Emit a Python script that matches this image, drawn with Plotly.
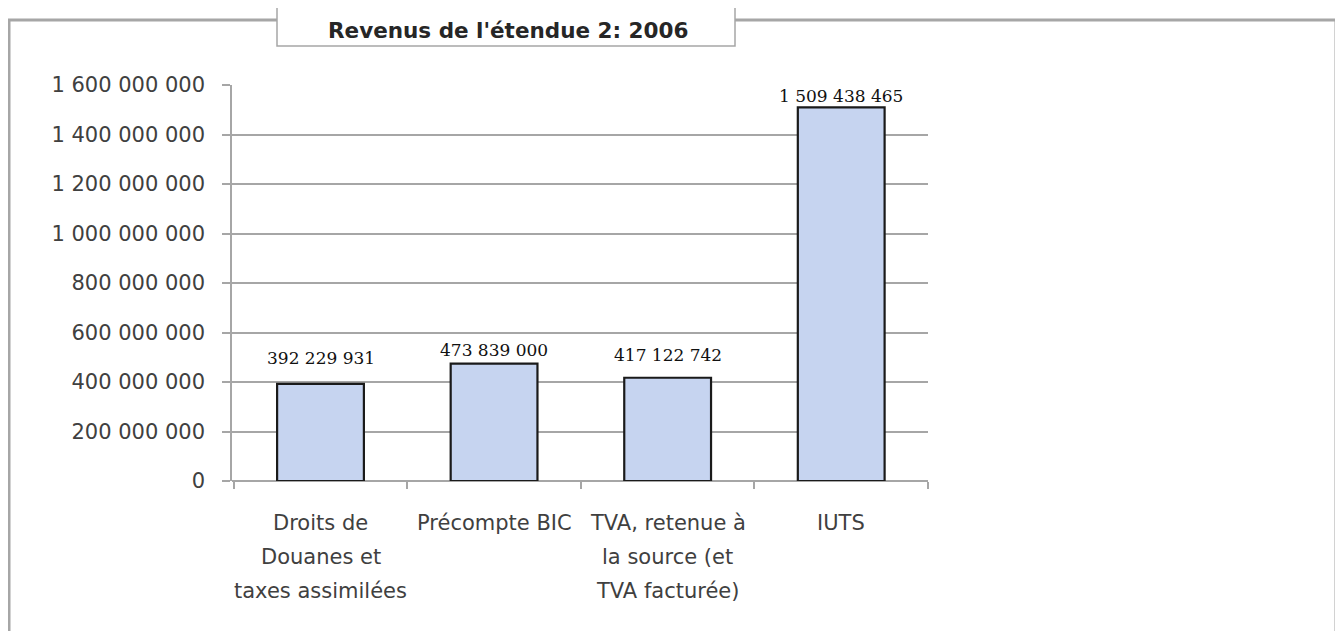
import plotly.graph_objects as go

# ---- data ----
categories = ["Droits de Douanes", "Précompte BIC", "TVA retenue", "IUTS"]
category_lines = [
    ["Droits de", "Douanes et", "taxes assimilées"],
    ["Précompte BIC"],
    ["TVA, retenue à", "la source (et", "TVA facturée)"],
    ["IUTS"],
]
values = [392229931, 473839000, 417122742, 1509438465]
y_ticks = [0, 200000000, 400000000, 600000000, 800000000,
           1000000000, 1200000000, 1400000000, 1600000000]
title_text = "Revenus de l'étendue 2: 2006"

# ---- style: vertical offset (px) of each data label above its bar ----
label_shift = [26, 14, 23, 11]

W, H = 1335, 623
OFF = 8  # page body margin
L, R, T, B = 232 - OFF, 928 - OFF, 85 - OFF, 481 - OFF  # plot area in figure pixels
pw, ph = R - L, B - T

def px(x):
    return (x - OFF - L) / pw

def py(y):
    return (B - (y - OFF)) / ph

labels = [f"{v:,}".replace(",", " ") for v in values]

fig = go.Figure()
fig.add_trace(go.Bar(
    x=categories, y=values, width=0.5,
    marker=dict(color="#c6d4f0", line=dict(color="#1a1a1a", width=2.2)),
    hoverinfo="skip",
))

annotations = []
for cat, v, lab, sh in zip(categories, values, labels, label_shift):
    annotations.append(dict(
        x=cat, y=v, xref="x", yref="y", text=lab, showarrow=False,
        yanchor="middle", xanchor="center", yshift=sh,
        font=dict(family="DejaVu Serif", size=17, color="#111111"),
    ))
for cat, lines in zip(categories, category_lines):
    for i, line in enumerate(lines):
        annotations.append(dict(
            x=cat, y=0, xref="x", yref="y", text=line, showarrow=False,
            yanchor="middle", xanchor="center", yshift=-(42 + 34 * i),
            font=dict(family="DejaVu Sans", size=21, color="#404040"),
        ))
annotations.append(dict(
    x=px(508), y=py(30), xref="paper", yref="paper", text="<b>" + title_text + "</b>",
    showarrow=False, xanchor="center", yanchor="middle",
    font=dict(family="DejaVu Sans", size=21.5, color="#262626"),
))

shapes = [
    dict(type="rect", xref="paper", yref="paper", x0=px(9), x1=px(1336),
         y0=py(650), y1=py(20), line=dict(color="#a6a6a6", width=3), layer="below"),
    dict(type="rect", xref="paper", yref="paper", x0=px(277), x1=px(735),
         y0=py(46), y1=py(2), line=dict(color="#a6a6a6", width=1.5),
         fillcolor="white", layer="above"),
]

fig.update_layout(
    width=W, height=H,
    margin=dict(l=L, r=W - R, t=T, b=H - B, pad=0),
    paper_bgcolor="white", plot_bgcolor="white",
    separators=", ",
    showlegend=False,
    annotations=annotations,
    shapes=shapes,
    bargap=0.5,
)
fig.update_xaxes(
    type="category", showticklabels=False, tickson="boundaries",
    ticks="outside", ticklen=7, tickcolor="#a6a6a6", tickwidth=1.5,
    showline=False, showgrid=False, zeroline=False,
)
fig.update_yaxes(
    range=[0, 1600000000], tickvals=y_ticks, tickformat=",d",
    ticks="outside", ticklen=8, tickcolor="#a6a6a6", tickwidth=1.5,
    showline=True, linecolor="#a6a6a6", linewidth=1.5,
    showgrid=True, gridcolor="#a6a6a6", gridwidth=1.5,
    zeroline=True, zerolinecolor="#a6a6a6", zerolinewidth=1.5,
    ticklabelstandoff=13,
    tickfont=dict(family="DejaVu Sans", size=21, color="#404040"),
)

fig.write_html("out.html")
